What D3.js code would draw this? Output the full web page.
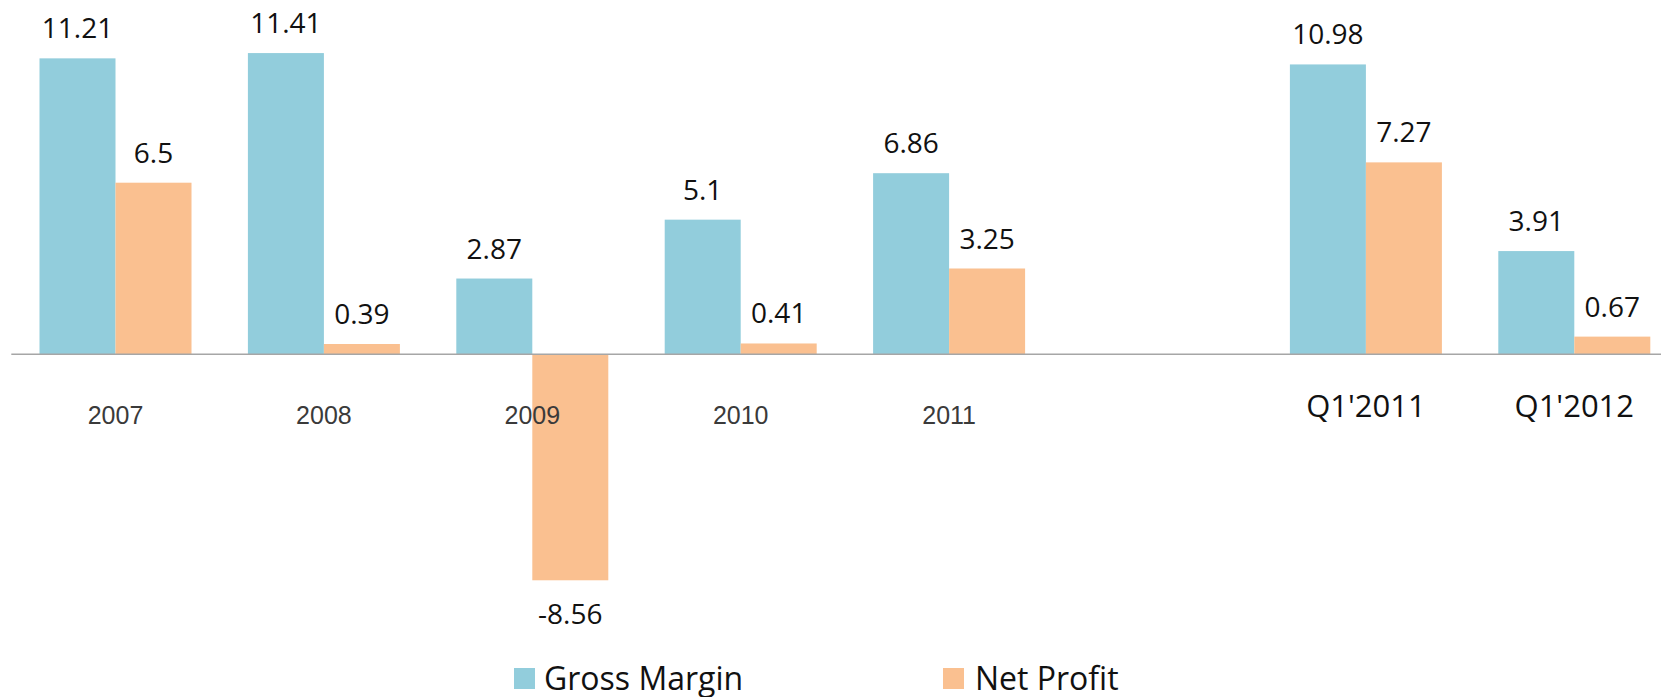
<!DOCTYPE html>
<html>
<head>
<meta charset="utf-8">
<script src="https://cdn.jsdelivr.net/npm/d3@7"></script>
<style>
  body { margin: 0; background: #fff; }
  svg { display: block; }
</style>
</head>
<body>
<svg id="chart"></svg>
<script>
// categories (one empty slot between the years and the quarters)
const categories = ['2007', '2008', '2009', '2010', '2011', ' ', "Q1'2011", "Q1'2012"];
const seriesNames = ['Gross Margin', 'Net Profit'];
const grossMargin = [11.21, 11.41, 2.87, 5.1, 6.86, null, 10.98, 3.91];
const netProfit = [6.5, 0.39, -8.56, 0.41, 3.25, null, 7.27, 0.67];
const seriesColors = ['#92cddc', '#fac090'];

class MarginChart {

    constructor(_config) {
        this.config = {
            parentElement: _config.parentElement,
            containerWidth: _config.containerWidth || 1661,
            containerHeight: _config.containerHeight || 697
        }
        this.initVis();
    }

    initVis() {
        let vis = this;

        vis.svg = d3.select(vis.config.parentElement)
            .attr('width', vis.config.containerWidth)
            .attr('height', vis.config.containerHeight);

        // scales
        vis.xScale = d3.scaleBand()
            .domain(categories)
            .range([11.3, 11.3 + 8 * 208.4])
            .padding(0);

        vis.xInner = d3.scaleBand()
            .domain(seriesNames)
            .range([28.2, 180.2]);

        vis.yScale = d3.scaleLinear()
            .domain([-10, 12])
            .range([354.3 + 264, 354.3 - 316.8]);

        vis.xAxis = d3.axisBottom(vis.xScale)
            .tickSize(0)
            .tickSizeOuter(0);

        vis.chart = vis.svg.append('g');
        vis.barsGroup = vis.chart.append('g');
        vis.labelsGroup = vis.chart.append('g');

        vis.xAxisGroup = vis.chart.append('g')
            .attr('class', 'axis x-axis')
            .attr('transform', `translate(0, ${vis.yScale(0)})`);

        vis.legend = vis.svg.append('g');

        vis.updateVis();
    }

    updateVis() {
        let vis = this;

        vis.data = [];
        categories.forEach((c, i) => {
            if (grossMargin[i] == null) return;
            vis.data.push({ cat: c, series: seriesNames[0], value: grossMargin[i], color: seriesColors[0] });
            vis.data.push({ cat: c, series: seriesNames[1], value: netProfit[i], color: seriesColors[1] });
        });

        vis.renderVis();
    }

    renderVis() {
        let vis = this;

        const barX = d => vis.xScale(d.cat) + vis.xInner(d.series);

        vis.barsGroup.selectAll('rect')
            .data(vis.data)
            .enter()
            .append('rect')
                .attr('fill', d => d.color)
                .attr('x', barX)
                .attr('width', vis.xInner.bandwidth())
                .attr('y', d => vis.yScale(Math.max(0, d.value)))
                .attr('height', d => Math.abs(vis.yScale(d.value) - vis.yScale(0)));

        // value labels
        vis.labelsGroup.selectAll('text')
            .data(vis.data)
            .enter()
            .append('text')
                .attr('x', d => barX(d) + vis.xInner.bandwidth() / 2)
                .attr('y', d => d.value >= 0 ? vis.yScale(d.value) - 20 : vis.yScale(d.value) + 44)
                .attr('text-anchor', 'middle')
                .attr('font-family', 'Open Sans')
                .attr('font-size', '28px')
                .attr('fill', '#111')
                .text(d => d.value);

        // x axis
        vis.xAxisGroup.call(vis.xAxis);
        vis.xAxisGroup.select('.domain')
            .attr('stroke', '#a6a6a6')
            .attr('stroke-width', 1.6)
            .attr('d', `M${vis.xScale.range()[0]},0H${vis.xScale.range()[1]}`);
        vis.xAxisGroup.selectAll('.tick text')
            .attr('dy', 0)
            .attr('y', d => d.startsWith('Q') ? 63 : 70)
            .attr('font-family', d => d.startsWith('Q') ? 'Open Sans' : 'Liberation Sans')
            .attr('font-size', d => d.startsWith('Q') ? '31px' : '25px')
            .attr('fill', d => d.startsWith('Q') ? '#111' : '#3a3a3a');

        // legend
        const legendX = [514, 943];
        const item = vis.legend.selectAll('g')
            .data(seriesNames)
            .enter()
            .append('g')
                .attr('transform', (d, i) => `translate(${legendX[i]}, 668)`);
        item.append('rect')
            .attr('width', 21)
            .attr('height', 21)
            .attr('fill', (d, i) => seriesColors[i]);
        item.append('text')
            .attr('x', (d, i) => i == 0 ? 30 : 32)
            .attr('y', 22)
            .attr('font-family', 'Open Sans')
            .attr('font-size', '32px')
            .attr('fill', '#111')
            .text(d => d);
    }
}

new MarginChart({ parentElement: '#chart' });
</script>
</body>
</html>
